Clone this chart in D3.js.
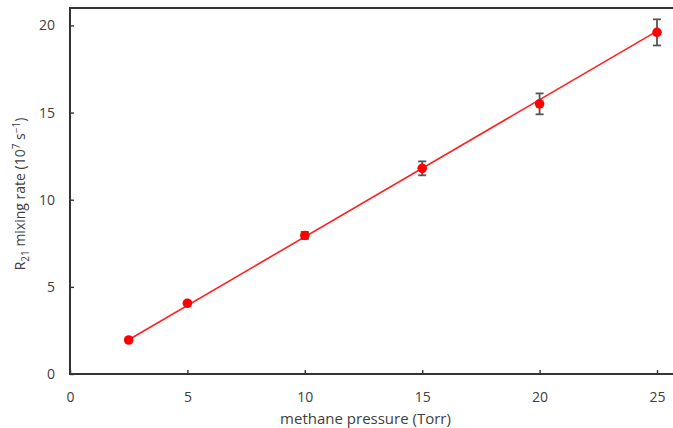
<!DOCTYPE html>
<html>
<head>
<meta charset="utf-8">
<script src="https://cdn.jsdelivr.net/npm/d3@7"></script>
<style>
    body { margin: 0; background: #fff; }
    svg { display: block; }
    text { font-family: "Open Sans", "Noto Sans", sans-serif; fill: #404040; }
</style>
</head>
<body>
<div id="root"></div>
<script>
// methane pressure (Torr) vs R21 mixing rate (10^7 s^-1)
const pressure = [2.5, 5, 10, 15, 20, 25];
const rate = [1.95, 4.06, 7.95, 11.8, 15.5, 19.6];
const rateErr = [0, 0, 0.2, 0.4, 0.6, 0.75];
const fitSlope = 0.787;
const fitIntercept = 0.0;
const xTicks = [0, 5, 10, 15, 20, 25];
const yTicks = [0, 5, 10, 15, 20];

const width = 673;
const height = 428;
const margin = { top: 8, right: 0, bottom: 54, left: 70 };

const svg = d3.select('#root')
    .append('svg')
    .attr('width', width)
    .attr('height', height);

// frame top line
svg.append('line')
    .attr('x1', margin.left - 1)
    .attr('x2', width)
    .attr('y1', margin.top)
    .attr('y2', margin.top)
    .attr('stroke', '#333')
    .attr('stroke-width', 2);

const x = d3.scaleLinear()
    .domain([0, 25])
    .range([margin.left, 657]);
const y = d3.scaleLinear()
    .domain([0, 21])
    .range([height - margin.bottom, margin.top]);

const axisColor = '#333';

const xAxis = svg.append('g')
    .attr('transform', `translate(0,${y(0)})`)
    .call(d3.axisBottom(x).tickValues(xTicks).tickSizeInner(-4).tickSizeOuter(0).tickPadding(18));
xAxis.select('.domain').remove();

const yAxis = svg.append('g')
    .attr('transform', `translate(${margin.left},0)`)
    .call(d3.axisLeft(y).tickValues(yTicks).tickSizeInner(-4).tickSizeOuter(0).tickPadding(15));
yAxis.select('.domain').remove();

svg.selectAll('.tick line').attr('stroke', axisColor).attr('stroke-width', 1.4);
svg.selectAll('.tick text')
    .style('font-size', '14px')
    .style('fill', '#404040');

// frame: left and bottom lines
svg.append('path')
    .attr('d', `M${margin.left},${margin.top}V${y(0)}H${width}`)
    .attr('fill', 'none')
    .attr('stroke', axisColor)
    .attr('stroke-width', 2);

// axis titles
svg.append('text')
    .attr('x', x(12.5) + 2)
    .attr('y', 424)
    .attr('text-anchor', 'middle')
    .style('font-size', '15px')
    .text('methane pressure (Torr)');

const yTitle = svg.append('text')
    .attr('transform', `translate(25,194) rotate(-90)`)
    .attr('text-anchor', 'middle')
    .style('font-size', '14px');
yTitle.append('tspan').text('R');
yTitle.append('tspan').attr('dy', 4).style('font-size', '10px').text('21');
yTitle.append('tspan').attr('dy', -4).text(' mixing rate (10');
yTitle.append('tspan').attr('dy', -5).style('font-size', '10px').text('7');
yTitle.append('tspan').attr('dy', 5).text(' s');
yTitle.append('tspan').attr('dy', -5).style('font-size', '10px').text('\u22121');
yTitle.append('tspan').attr('dy', 5).text(')');

// linear fit
const fitX = d3.extent(pressure);
svg.append('line')
    .attr('x1', x(fitX[0])).attr('y1', y(fitSlope * fitX[0] + fitIntercept))
    .attr('x2', x(fitX[1])).attr('y2', y(fitSlope * fitX[1] + fitIntercept))
    .attr('stroke', '#ff2020').attr('stroke-width', 1.6);

const pts = pressure.map((p, i) => ({ p, r: rate[i], e: rateErr[i] }));

// error bars
const err = svg.append('g')
    .attr('stroke', '#555')
    .attr('stroke-width', 1.8);
pts.filter(d => d.e > 0).forEach(d => {
    err.append('line')
        .attr('x1', x(d.p)).attr('x2', x(d.p))
        .attr('y1', y(d.r - d.e)).attr('y2', y(d.r + d.e));
    [d.r - d.e, d.r + d.e].forEach(v => {
        err.append('line')
            .attr('x1', x(d.p) - 4).attr('x2', x(d.p) + 4)
            .attr('y1', y(v)).attr('y2', y(v));
    });
});

svg.selectAll('circle')
    .data(pts)
    .join('circle')
    .attr('cx', d => x(d.p))
    .attr('cy', d => y(d.r))
    .attr('r', 4.8)
    .attr('fill', '#ff0000');
</script>
</body>
</html>
